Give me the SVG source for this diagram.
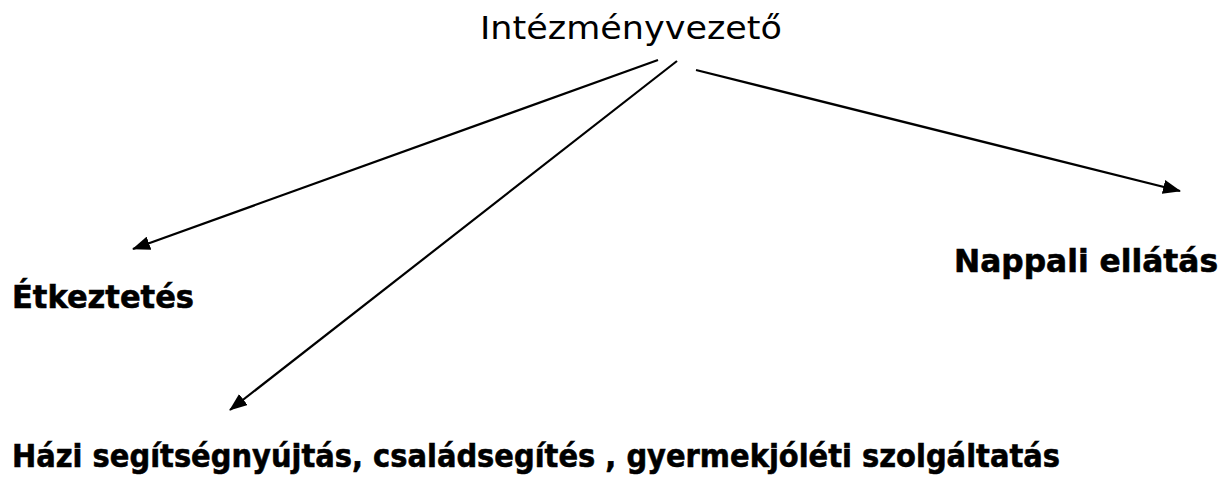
<svg xmlns="http://www.w3.org/2000/svg" width="1231" height="477" viewBox="0 0 1231 477">
<style>
.t{font-family:"DejaVu Sans","Verdana",sans-serif;fill:#000}
.b{font-weight:bold;font-size:32px;stroke:#000;stroke-width:0.6}
.r{font-size:32px}
.c{stroke:#000;stroke-width:2.2;fill:none;marker-end:url(#ah)}
</style>
<defs>
<marker id="ah" viewBox="0 0 18 14" refX="17" refY="7" markerWidth="18" markerHeight="14" markerUnits="userSpaceOnUse" orient="auto">
<path d="M0,0 L18,7 L0,14 z" fill="#000"/>
</marker>
</defs>
<rect width="1231" height="477" fill="#fff"/>
<g id="connectors">
<line class="c" x1="658" y1="60" x2="133" y2="249"/>
<line class="c" x1="677" y1="61" x2="230" y2="410"/>
<line class="c" x1="696" y1="70" x2="1180" y2="191"/>
</g>
<g id="n-root"><text class="t r" x="480" y="39" textLength="302" lengthAdjust="spacingAndGlyphs">Intézményvezető</text></g>
<g id="n-etk"><text class="t b" x="12" y="308" textLength="182" lengthAdjust="spacingAndGlyphs">Étkeztetés</text></g>
<g id="n-napp"><text class="t b" x="954" y="272" textLength="264" lengthAdjust="spacingAndGlyphs">Nappali ellátás</text></g>
<g id="n-hazi"><text class="t b" x="12" y="467" textLength="1048" lengthAdjust="spacingAndGlyphs">Házi segítségnyújtás, családsegítés , gyermekjóléti szolgáltatás</text></g>
</svg>
